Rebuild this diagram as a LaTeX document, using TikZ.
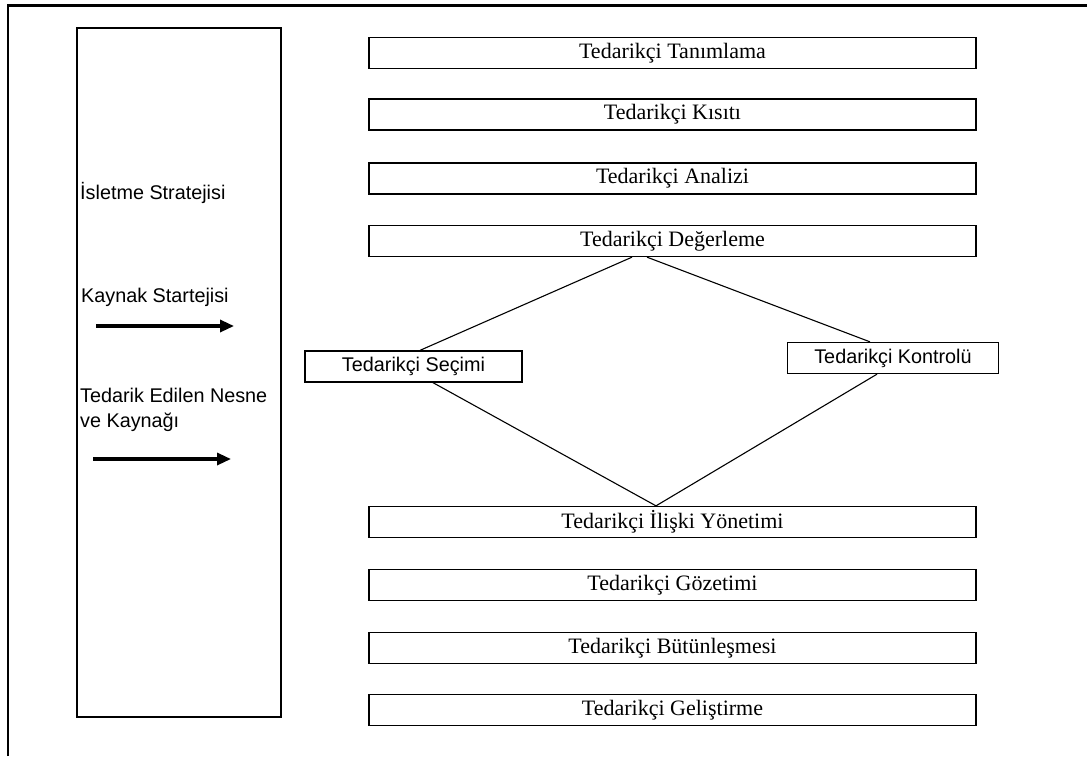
\documentclass[tikz,border=0pt]{standalone}
\usepackage{fontspec}
\setmainfont{Liberation Serif}
\newfontfamily\arialfont{Liberation Sans}
\usetikzlibrary{arrows.meta}

\tikzset{
  stagebox/.style={draw, line width=1.3pt, minimum width=607pt, minimum height=31pt,
    inner sep=0pt, font=\fontsize{22}{24}\selectfont},
  sidebox/.style={draw, line width=1.3pt, minimum height=31pt, inner sep=0pt,
    font=\arialfont\fontsize{19.8}{22}\selectfont},
  sidelabel/.style={anchor=west, inner sep=0pt, align=left,
    font=\arialfont\fontsize{19.8}{25}\selectfont},
  link/.style={line width=1.1pt},
  flow/.style={line width=3.2pt, -{Triangle[length=14pt,width=12pt]}},
  frame/.style={line width=2.4pt}
}

\begin{document}
\begin{tikzpicture}[x=1pt, y=-1pt]
  \useasboundingbox (0,0) rectangle (1087,756);

  % page frame (top and left edges)
  \draw[frame] (8,756) -- (8,5.5) -- (1090,5.5);

  % left column: strategy inputs
  \node[draw, line width=1.3pt, minimum width=204pt, minimum height=689pt, inner sep=0pt]
    (strategy) at (179,372.5) {};
  \node[sidelabel] (isletme) at (80,193) {İsletme Stratejisi};
  \node[sidelabel] (kaynak) at (81,297) {Kaynak Startejisi};
  \node[sidelabel] (nesne) at (80,409.5) {Tedarik Edilen Nesne\\ve Kaynağı};
  \coordinate (a1s) at (96,326);
  \coordinate (a1e) at (234,326);
  \coordinate (a2s) at (93,459);
  \coordinate (a2e) at (231,459);
  \draw[flow] (a1s) -- (a1e);
  \draw[flow] (a2s) -- (a2e);

  % right column: supplier management stages
  \node[stagebox] (tanim)   at (672.5,53)    {Tedarikçi Tanımlama};
  \node[stagebox] (kisit)   at (672.5,114.5) {Tedarikçi Kısıtı};
  \node[stagebox] (analiz)  at (672.5,178.5) {Tedarikçi Analizi};
  \node[stagebox] (deger)   at (672.5,241)   {Tedarikçi Değerleme};
  \node[stagebox] (iliski)  at (672.5,522)   {Tedarikçi İlişki Yönetimi};
  \node[stagebox] (gozetim) at (672.5,585)   {Tedarikçi Gözetimi};
  \node[stagebox] (butun)   at (672.5,648)   {Tedarikçi Bütünleşmesi};
  \node[stagebox] (gelis)   at (672.5,710)   {Tedarikçi Geliştirme};

  % selection / control branches
  \node[sidebox, minimum width=217pt] (secim)   at (413.5,366.5) {Tedarikçi Seçimi};
  \node[sidebox, minimum width=211pt] (kontrol) at (893,358)     {Tedarikçi Kontrolü};

  \draw[link] ([xshift=-40.5pt]deger.south) -- ([xshift=6.5pt]secim.north);
  \draw[link] ([xshift=-25.5pt]deger.south) -- ([xshift=-23pt]kontrol.north);
  \draw[link] ([xshift=19.5pt]secim.south) -- ([xshift=-16.5pt]iliski.north);
  \draw[link] ([xshift=-16pt]kontrol.south) -- ([xshift=-16.5pt]iliski.north);
\end{tikzpicture}
\end{document}
